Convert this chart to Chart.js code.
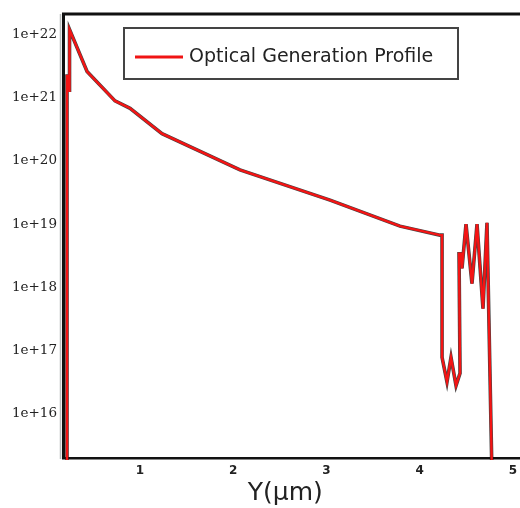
<!DOCTYPE html>
<html>
<head>
<meta charset="utf-8">
<script src="https://cdn.jsdelivr.net/npm/chart.js@4/dist/chart.umd.min.js"></script>
<style>
  html, body { margin: 0; padding: 0; background: #fff; }
  #wrap { width: 520px; height: 508px; position: relative; }
</style>
</head>
<body>
<div id="wrap"><canvas id="chart"></canvas></div>
<script>
// depth (um) and optical generation (cm^-3 s^-1)
const depth = [0.217, 0.217, 0.239, 0.239, 0.249, 0.432, 0.732, 0.893, 1.236, 2.072, 3.038, 3.788, 4.217,
               4.239, 4.239, 4.292, 4.335, 4.389, 4.432, 4.421, 4.442, 4.453, 4.496, 4.56, 4.614, 4.678, 4.721, 4.775];
const generation = [1e15, 2.2e21, 2.2e21, 1.23e21, 1.2e22, 2.6e21, 8.9e20, 6.8e20, 2.7e20, 7.2e19, 2.4e19, 9.3e18, 6.7e18,
                    6.7e18, 7.8e16, 3.2e16, 7.8e16, 2.8e16, 4.4e16, 3.4e18, 3.4e18, 2e18, 1e19, 1.15e18, 1e19, 4.6e17, 1.05e19, 1e15];
const xTicks = [1, 2, 3, 4, 5];
const yTicks = [1e16, 1e17, 1e18, 1e19, 1e20, 1e21, 1e22];
const seriesLabel = 'Optical Generation Profile';

const points = depth.map((d, i) => ({ x: d, y: generation[i] }));

const frame = {
    id: 'frame',
    afterDraw(chart) {
        const ctx = chart.ctx;
        const a = chart.chartArea;
        ctx.save();
        // light gray line left of the axis
        ctx.strokeStyle = '#b8bcbc';
        ctx.lineWidth = 1.5;
        ctx.beginPath();
        ctx.moveTo(a.left - 2.5, a.top);
        ctx.lineTo(a.left - 2.5, a.bottom + 1);
        ctx.stroke();
        // top border
        ctx.strokeStyle = '#111';
        ctx.lineWidth = 3;
        ctx.beginPath();
        ctx.moveTo(a.left - 1, a.top);
        ctx.lineTo(a.right, a.top);
        ctx.stroke();
        // legend box
        ctx.fillStyle = '#fff';
        ctx.fillRect(124, 28, 334, 51);
        ctx.strokeStyle = '#444';
        ctx.lineWidth = 2;
        ctx.strokeRect(124, 28, 334, 51);
        ctx.strokeStyle = '#f01414';
        ctx.lineWidth = 3;
        ctx.beginPath();
        ctx.moveTo(135, 57);
        ctx.lineTo(183, 57);
        ctx.stroke();
        ctx.fillStyle = '#222';
        ctx.font = '19px "DejaVu Sans"';
        ctx.textBaseline = 'middle';
        ctx.fillText(seriesLabel, 189, 57);
        ctx.restore();
    }
};

new Chart(document.getElementById('chart'), {
    type: 'line',
    data: {
        datasets: [
            {
                label: seriesLabel,
                data: points,
                borderColor: '#f41414',
                borderWidth: 2.4,
                pointRadius: 0,
                tension: 0,
                clip: 2,
                order: 0
            },
            {
                label: 'edge',
                data: points,
                borderColor: 'rgba(20,20,20,0.8)',
                borderWidth: 3.6,
                pointRadius: 0,
                tension: 0,
                clip: 2,
                order: 1
            }
        ]
    },
    options: {
        responsive: true,
        maintainAspectRatio: false,
        animation: false,
        layout: { padding: { top: 10, left: 0, right: 0, bottom: 0 } },
        plugins: {
            legend: { display: false },
            tooltip: { enabled: false }
        },
        scales: {
            x: {
                type: 'linear',
                min: 0.174,
                max: 5.075,
                afterBuildTicks: scale => { scale.ticks = xTicks.map(v => ({ value: v })); },
                afterFit: scale => { scale.height = 50; scale.paddingRight = 0; scale.paddingLeft = 0; },
                grid: { display: false, drawTicks: false },
                border: { display: true, color: '#111', width: 2.5 },
                ticks: {
                    padding: 6,
                    color: '#222',
                    font: { family: 'DejaVu Sans', size: 12, weight: 'bold' },
                    maxRotation: 0
                },
                title: {
                    display: true,
                    text: 'Y(\u03bcm)\u2002',
                    color: '#222',
                    font: { family: 'DejaVu Sans', size: 25 },
                    padding: { top: 0, bottom: 0 }
                }
            },
            y: {
                type: 'logarithmic',
                min: 2e15,
                max: 2.1e22,
                afterBuildTicks: scale => { scale.ticks = yTicks.map(v => ({ value: v })); },
                afterFit: scale => { scale.width = 63; },
                grid: { display: false, drawTicks: false },
                border: { display: true, color: '#111', width: 3 },
                ticks: {
                    padding: 6,
                    color: '#222',
                    font: { family: 'DejaVu Serif', size: 13.5 },
                    callback: v => '1e+' + Math.round(Math.log10(v))
                }
            }
        }
    },
    plugins: [frame]
});
</script>
</body>
</html>
